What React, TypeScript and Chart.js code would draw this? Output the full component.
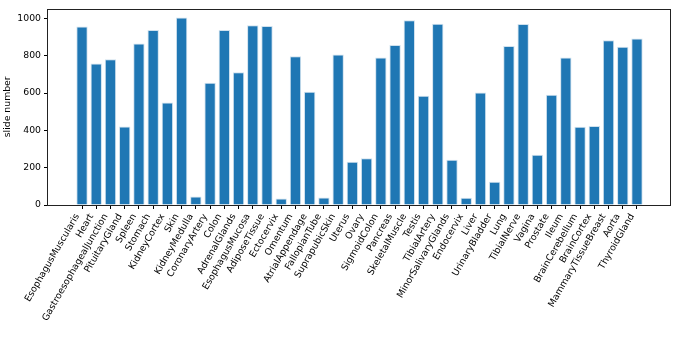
import React, { useEffect, useRef } from "react";
import { Chart, registerables } from "chart.js";

Chart.register(...registerables);

const categories = [
  "EsophagusMuscularis", "Heart", "GastroesophagealJunction", "PituitaryGland", "Spleen",
  "Stomach", "KidneyCortex", "Skin", "KidneyMedulla", "CoronaryArtery",
  "Colon", "AdrenalGlands", "EsophagusMucosa", "AdiposeTissue", "Ectocervix",
  "Omentum", "AtrialAppendage", "FallopianTube", "SuprapubicSkin", "Uterus",
  "Ovary", "SigmoidColon", "Pancreas", "SkeletalMuscle", "Testis",
  "TibialArtery", "MinorSalivaryGlands", "Endocervix", "Liver", "UrinaryBladder",
  "Lung", "TibialNerve", "Vagina", "Prostate", "Ileum",
  "BrainCerebellum", "BrainCortex", "MammaryTissueBreast", "Aorta", "ThyroidGland",
];

const slideCounts = [
  957, 759, 781, 421, 866,
  938, 550, 1005, 46, 655,
  938, 711, 963, 959, 35,
  798, 607, 40, 807, 232,
  250, 791, 858, 991, 586,
  972, 242, 39, 603, 125,
  853, 970, 269, 591, 791,
  419, 423, 883, 848, 892,
];

const yTicks = [0, 200, 400, 600, 800, 1000];
const yAxisTitle = "slide number";

const FONT = "'DejaVu Sans', sans-serif";
const FONT_SIZE = 9.3;

const boxPlugin = {
  id: "boxPlugin",
  afterDraw(chart: any) {
    const { ctx, chartArea } = chart;
    ctx.save();
    ctx.strokeStyle = "#222";
    ctx.lineWidth = 1;
    const l = Math.round(chartArea.left) - 0.5;
    const t = Math.round(chartArea.top) + 0.5;
    const r = Math.round(chartArea.right) - 0.5;
    const b = Math.round(chartArea.bottom) + 0.5;
    ctx.strokeRect(l, t, r - l, b - t);

    // rotated category labels, matplotlib-style (rotation 60, ha=right)
    const xs = chart.scales.x;
    ctx.fillStyle = "#000";
    ctx.font = FONT_SIZE + "px " + FONT;
    ctx.textAlign = "right";
    ctx.textBaseline = "middle";
    const y0 = chartArea.bottom + 9.7;
    categories.forEach((label, i) => {
      const x = xs.getPixelForValue(i);
      ctx.save();
      ctx.translate(x - 4.7, y0);
      ctx.rotate(-Math.PI / 3);
      ctx.fillText(label, 0, 0);
      ctx.restore();
    });
    ctx.restore();
  },
};

export default function App() {
  const ref = useRef<HTMLCanvasElement | null>(null);

  useEffect(() => {
    if (!ref.current) return;
    const n = categories.length;
    const margin = 0.05 * (n - 1 + 0.8);
    const chart = new Chart(ref.current, {
      type: "bar",
      data: {
        datasets: [
          {
            data: slideCounts.map((v, i) => ({ x: i, y: v })),
            backgroundColor: "#1f77b4",
            borderColor: "#cfe1ee",
            borderWidth: 1,
            barPercentage: 0.8,
            categoryPercentage: 1,
          },
        ],
      },
      options: {
        animation: false,
        responsive: false,
        maintainAspectRatio: false,
        layout: { padding: { top: 7, right: 14, left: 0, bottom: 0 } },
        plugins: { legend: { display: false }, tooltip: { enabled: false } },
        scales: {
          x: {
            type: "linear",
            offset: false,
            min: -0.4 - margin,
            max: n - 1 + 0.4 + margin,
            border: { display: false },
            grid: {
              display: true,
              offset: false,
              drawOnChartArea: false,
              drawTicks: true,
              tickLength: 4,
              color: "#000",
            },
            afterBuildTicks: (scale: any) => {
              scale.ticks = categories.map((_, i) => ({ value: i }));
            },
            afterFit: (scale: any) => {
              scale.height = 138;
            },
            ticks: {
              display: false,
              autoSkip: false,
            },
          },
          y: {
            min: 0,
            max: 1053,
            border: { display: false },
            grid: {
              display: true,
              drawOnChartArea: false,
              drawTicks: true,
              tickLength: 4,
              color: "#000",
            },
            afterBuildTicks: (scale: any) => {
              scale.ticks = yTicks.map((v) => ({ value: v }));
            },
            afterFit: (scale: any) => {
              scale.width = 48;
            },
            ticks: {
              padding: 3,
              color: "#000",
              font: { family: FONT, size: FONT_SIZE },
              callback: (v: any) => String(v),
            },
            title: {
              display: true,
              text: yAxisTitle,
              color: "#000",
              font: { family: FONT, size: FONT_SIZE },
              padding: { top: 2, bottom: 0 },
            },
          },
        },
      },
      plugins: [boxPlugin],
    });
    return () => chart.destroy();
  }, []);

  return (
    <div style={{ position: "fixed", left: 0, top: 0, width: 685, height: 343, background: "#fff" }}>
      <canvas ref={ref} width={685} height={343} style={{ display: "block" }} />
    </div>
  );
}
